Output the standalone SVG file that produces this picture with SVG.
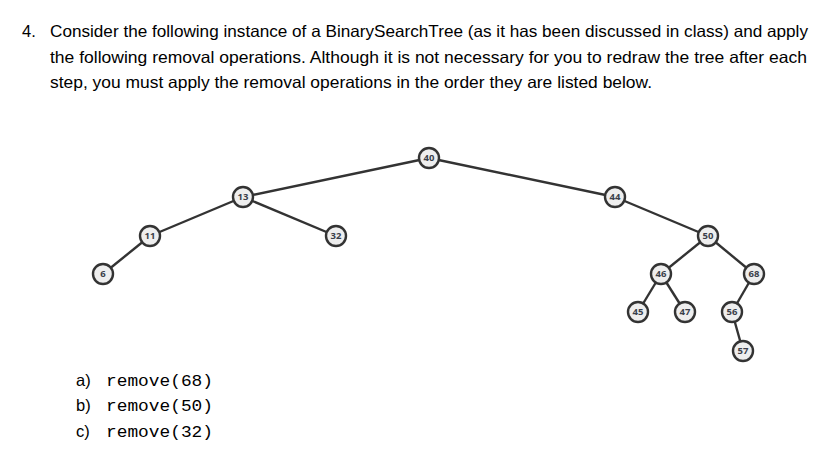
<svg xmlns="http://www.w3.org/2000/svg" width="834" height="462" viewBox="0 0 834 462">
<style>
.t{font-family:"Liberation Sans","Open Sans",sans-serif;font-size:16.5px;fill:#000}
.m{font-family:"Liberation Mono","Courier New",monospace;font-size:17px;fill:#000}
.n circle{fill:#eeeeee;stroke:#333;stroke-width:2.4}
.n text{font-family:"Open Sans","Liberation Sans",sans-serif;font-size:9.5px;font-weight:bold;fill:#3a3f4a;text-anchor:middle}
#edges line{stroke:#333;stroke-width:2.4}
</style>
<rect width="834" height="462" fill="#fff"/>
<text class="t" x="22" y="37">4.</text>
<text class="t" x="50" y="37" textLength="758" lengthAdjust="spacingAndGlyphs">Consider the following instance of a BinarySearchTree (as it has been discussed in class) and apply</text>
<text class="t" x="50" y="63" textLength="757" lengthAdjust="spacingAndGlyphs">the following removal operations. Although it is not necessary for you to redraw the tree after each</text>
<text class="t" x="50" y="88" textLength="602" lengthAdjust="spacingAndGlyphs">step, you must apply the removal operations in the order they are listed below.</text>
<g id="edges">
<line x1="429" y1="158" x2="243" y2="197"/>
<line x1="429" y1="158" x2="615" y2="197"/>
<line x1="243" y1="197" x2="150" y2="236"/>
<line x1="243" y1="197" x2="336" y2="236"/>
<line x1="150" y1="236" x2="103" y2="274"/>
<line x1="615" y1="197" x2="708" y2="236"/>
<line x1="708" y1="236" x2="661" y2="274"/>
<line x1="708" y1="236" x2="754" y2="274"/>
<line x1="661" y1="274" x2="638" y2="312"/>
<line x1="661" y1="274" x2="685" y2="312"/>
<line x1="754" y1="274" x2="732" y2="312"/>
<line x1="732" y1="312" x2="743" y2="351"/>
</g>
<g id="n40" class="n"><circle cx="429" cy="158" r="10"/><text x="429" y="161.4">40</text></g>
<g id="n13" class="n"><circle cx="243" cy="197" r="10"/><text x="243" y="200.4">13</text></g>
<g id="n44" class="n"><circle cx="615" cy="197" r="10"/><text x="615" y="200.4">44</text></g>
<g id="n11" class="n"><circle cx="150" cy="236" r="10"/><text x="150" y="239.4">11</text></g>
<g id="n32" class="n"><circle cx="336" cy="236" r="10"/><text x="336" y="239.4">32</text></g>
<g id="n6" class="n"><circle cx="103" cy="274" r="10"/><text x="103" y="277.4">6</text></g>
<g id="n50" class="n"><circle cx="708" cy="236" r="10"/><text x="708" y="239.4">50</text></g>
<g id="n46" class="n"><circle cx="661" cy="274" r="10"/><text x="661" y="277.4">46</text></g>
<g id="n68" class="n"><circle cx="754" cy="274" r="10"/><text x="754" y="277.4">68</text></g>
<g id="n45" class="n"><circle cx="638" cy="312" r="10"/><text x="638" y="315.4">45</text></g>
<g id="n47" class="n"><circle cx="685" cy="312" r="10"/><text x="685" y="315.4">47</text></g>
<g id="n56" class="n"><circle cx="732" cy="312" r="10"/><text x="732" y="315.4">56</text></g>
<g id="n57" class="n"><circle cx="743" cy="351" r="10"/><text x="743" y="354.4">57</text></g>
<text class="t" x="76" y="386">a)</text>
<text class="m" x="106" y="386" textLength="107" lengthAdjust="spacingAndGlyphs">remove(68)</text>
<text class="t" x="76" y="411">b)</text>
<text class="m" x="106" y="411" textLength="107" lengthAdjust="spacingAndGlyphs">remove(50)</text>
<text class="t" x="76" y="437">c)</text>
<text class="m" x="106" y="437" textLength="107" lengthAdjust="spacingAndGlyphs">remove(32)</text>
</svg>
